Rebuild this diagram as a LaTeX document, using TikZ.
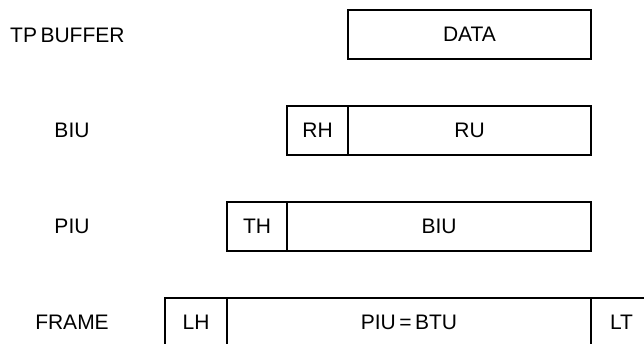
\documentclass[tikz,border=0pt]{standalone}
\usepackage{fontspec}
\setmainfont{Liberation Sans}
\begin{document}
\begin{tikzpicture}[x=1pt,y=-1pt,
  cell/.style={draw=black,line width=1.7pt,rectangle,inner sep=0pt,minimum height=49pt,font=\fontsize{21}{21}\selectfont},
  lbl/.style={inner sep=0pt,font=\fontsize{21}{21}\selectfont}]
\useasboundingbox (0,0) rectangle (644,344);
\clip (0,0) rectangle (644,344);
\fill[white] (0,0) rectangle (644,344);
% row 1
\node[lbl,anchor=west] (ltp) at (10,35) {TP\,BUFFER};
\node[cell,minimum width=243pt] (data) at (469.5,34.5) {DATA};
% row 2
\node[lbl] (lbiu) at (72,130.5) {BIU};
\node[cell,minimum width=61pt] (rh) at (317.5,130.5) {RH};
\node[cell,minimum width=243pt] (ru) at (469.5,130.5) {RU};
% row 3
\node[lbl] (lpiu) at (72,226.5) {PIU};
\node[cell,minimum width=60pt] (th) at (257,226.5) {TH};
\node[cell,minimum width=304pt] (biu) at (439,226.5) {BIU};
% row 4
\node[lbl] (lframe) at (72,322.5) {FRAME};
\node[cell,minimum width=62pt] (lh) at (196,322.5) {LH};
\node[cell,minimum width=364pt] (pbtu) at (409,322.5) {PIU\,=\,BTU};
\node[cell,minimum width=61pt] (lt) at (621.5,322.5) {LT};
\end{tikzpicture}
\end{document}
